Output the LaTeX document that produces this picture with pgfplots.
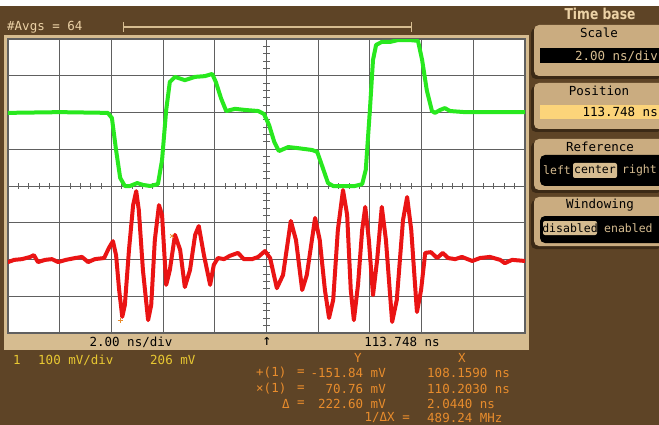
\documentclass[border=0pt]{standalone}
\usepackage{pgfplots}
\pgfplotsset{compat=1.18}
\usepackage{fontspec}
\newfontfamily\mono{DejaVu Sans Mono}
\newfontfamily\titlefont[FakeStretch=0.82]{DejaVu Sans}
\definecolor{bg}{RGB}{94,68,38}
\definecolor{frametan}{RGB}{214,188,144}
\definecolor{paneltan}{RGB}{202,172,128}
\definecolor{shadowc}{RGB}{60,42,22}
\definecolor{lightorange}{RGB}{252,212,122}
\definecolor{titletan}{RGB}{236,210,166}
\definecolor{ytext}{RGB}{232,200,50}
\definecolor{otext}{RGB}{232,140,44}
\definecolor{trgreen}{RGB}{40,232,30}
\definecolor{trred}{RGB}{234,20,20}
\definecolor{gridc}{RGB}{96,96,96}
\newcommand\mf{\mono\fontsize{12.5}{13}\selectfont}
\newcommand\mfs{\mono\fontsize{11.5}{12}\selectfont}
\begin{document}
\begin{tikzpicture}
\useasboundingbox (0pt,-425pt) rectangle (659pt,0pt);
\begin{scope}[x=1pt,y=-1pt]
\fill[bg] (0,0) rectangle (659,425);
\fill[white] (0,0) rectangle (659,6);
% screen frame
\fill[frametan] (4,35) rectangle (529,350);
\fill[white] (8,39) rectangle (525,333);
% top line
\node[anchor=west, text=titletan, font=\mf, inner sep=0pt] at (7,27) {\#Avgs = 64};
\draw[frametan, line width=2.5pt] (123,27) -- (411,27);
\draw[frametan, line width=1pt] (123,22) -- (123,32);
\draw[frametan, line width=1pt] (411,22) -- (411,32);
% right panel
\node[text=titletan, font=\titlefont\bfseries\fontsize{15}{16}\selectfont, inner sep=0pt] at (600,14) {Time base};
% Scale box
\fill[shadowc, rounded corners=5pt] (531,28) rectangle (662,79);
\fill[paneltan, rounded corners=5pt] (534,25) rectangle (664,76);
\node[font=\mf, inner sep=0pt] at (599,33) {Scale};
\fill[black] (540,48) rectangle (662,63);
\node[anchor=east, text=frametan, font=\mf, inner sep=0pt] at (658,56) {2.00 ns/div};
% Position box
\fill[shadowc, rounded corners=5pt] (531,86) rectangle (662,132);
\fill[paneltan, rounded corners=5pt] (534,83) rectangle (664,129);
\node[font=\mf, inner sep=0pt] at (599,91) {Position};
\fill[lightorange] (540,105) rectangle (662,119);
\node[anchor=east, font=\mf, inner sep=0pt] at (658,112) {113.748 ns};
% Reference box
\fill[shadowc, rounded corners=5pt] (531,142) rectangle (662,193);
\fill[paneltan, rounded corners=5pt] (534,139) rectangle (664,190);
\node[font=\mf, inner sep=0pt] at (600,147) {Reference};
\fill[black, rounded corners=5pt] (540,155) rectangle (664,186);
\fill[frametan, rounded corners=2pt] (573,163) rectangle (617,178);
\node[anchor=west, text=frametan, font=\mfs, inner sep=0pt] at (543,170) {left};
\node[font=\mfs, inner sep=0pt] at (595,170) {center};
\node[anchor=west, text=frametan, font=\mfs, inner sep=0pt] at (622,170) {right};
% Windowing box
\fill[shadowc, rounded corners=5pt] (531,200) rectangle (662,249);
\fill[paneltan, rounded corners=5pt] (534,197) rectangle (664,246);
\node[font=\mf, inner sep=0pt] at (600,205) {Windowing};
\fill[black, rounded corners=5pt] (540,216) rectangle (664,243);
\fill[frametan, rounded corners=2pt] (543,221) rectangle (597,235);
\node[font=\mfs, inner sep=0pt] at (570,228) {disabled};
\node[anchor=west, text=frametan, font=\mfs, inner sep=0pt] at (604,228) {enabled};
% bottom strip text
\node[font=\mf, inner sep=0pt] at (131,342) {2.00 ns/div};
\node[font=\mono\fontsize{15}{15}\selectfont, inner sep=0pt] at (267,341) {↑};
\node[font=\mf, inner sep=0pt] at (402,342) {113.748 ns};
% yellow line
\node[anchor=west, text=ytext, font=\mf, inner sep=0pt] at (13,360) {1};
\node[anchor=west, text=ytext, font=\mf, inner sep=0pt] at (38,360) {100 mV/div};
\node[anchor=west, text=ytext, font=\mf, inner sep=0pt] at (150,360) {206 mV};
% cursor readout
\node[text=otext, font=\mf, inner sep=0pt] at (358,358) {Y};
\node[text=otext, font=\mf, inner sep=0pt] at (462,358) {X};
\node[anchor=west, text=otext, font=\mf, inner sep=0pt] at (256,373) {+(1)};
\node[anchor=west, text=otext, font=\mf, inner sep=0pt] at (256,389) {×(1)};
\node[anchor=west, text=otext, font=\mf, inner sep=0pt] at (282,404) {Δ};
\node[text=otext, font=\mf, inner sep=0pt] at (301,373) {=};
\node[text=otext, font=\mf, inner sep=0pt] at (301,389) {=};
\node[text=otext, font=\mf, inner sep=0pt] at (301,404) {=};
\node[anchor=east, text=otext, font=\mf, inner sep=0pt] at (386,373) {-151.84 mV};
\node[anchor=east, text=otext, font=\mf, inner sep=0pt] at (386,389) {70.76 mV};
\node[anchor=east, text=otext, font=\mf, inner sep=0pt] at (386,404) {222.60 mV};
\node[anchor=east, text=otext, font=\mf, inner sep=0pt] at (410,418) {1/ΔX =};
\node[anchor=west, text=otext, font=\mf, inner sep=0pt] at (427,373) {108.1590 ns};
\node[anchor=west, text=otext, font=\mf, inner sep=0pt] at (427,389) {110.2030 ns};
\node[anchor=west, text=otext, font=\mf, inner sep=0pt] at (427,404) {2.0440 ns};
\node[anchor=west, text=otext, font=\mf, inner sep=0pt] at (427,418) {489.24 MHz};
\end{scope}
\begin{axis}[at={(8pt,-333pt)}, anchor=south west, width=517pt, height=294pt, scale only axis,
  xmin=0, xmax=10, ymin=-4, ymax=4,
  xtick={0,1,...,10}, ytick={-4,-3,...,4}, xticklabels={}, yticklabels={},
  major tick length=0pt, grid=major,
  grid style={gridc, line width=1pt}, axis line style={gridc, line width=1.2pt},
  axis background/.style={fill=white}, clip=true]
\pgfplotsinvokeforeach{0.2,0.4,0.6,0.8,1.2,1.4,1.6,1.8,2.2,2.4,2.6,2.8,3.2,3.4,3.6,3.8,4.2,4.4,4.6,4.8,5.2,5.4,5.6,5.8,6.2,6.4,6.6,6.8,7.2,7.4,7.6,7.8,8.2,8.4,8.6,8.8,9.2,9.4,9.6,9.8}{
  \draw[gridc, line width=1pt] (axis cs:#1,-0.08) -- (axis cs:#1,0.08);
}
\pgfplotsinvokeforeach{-3.8,-3.6,-3.4,-3.2,-2.8,-2.6,-2.4,-2.2,-1.8,-1.6,-1.4,-1.2,-0.8,-0.6,-0.4,-0.2,0.2,0.4,0.6,0.8,1.2,1.4,1.6,1.8,2.2,2.4,2.6,2.8,3.2,3.4,3.6,3.8}{
  \draw[gridc, line width=1pt] (axis cs:4.94,#1) -- (axis cs:5.06,#1);
}
\addplot[trgreen, line width=4pt, line join=round, line cap=round] coordinates {
(0,1.99) (1.006,2.01) (1.93,1.99) (2.01,1.85) (2.09,0.98) (2.17,0.22) (2.26,0.0)
(2.36,0.0) (2.50,0.08) (2.61,0.03) (2.75,0.0) (2.90,0.05) (2.98,0.71) (3.06,2.07)
(3.13,2.83) (3.23,2.97) (3.42,2.88) (3.62,2.97) (3.81,2.99) (3.95,3.05) (4.02,2.83)
(4.12,2.39) (4.22,2.04) (4.39,2.10) (4.58,2.07) (4.84,2.04) (4.95,1.96) (5.05,1.66)
(5.15,1.20) (5.24,0.95) (5.42,1.06) (5.61,1.03) (5.88,0.98) (5.98,0.93) (6.07,0.57)
(6.19,0.08) (6.29,0.0) (6.52,0.0) (6.71,0.0) (6.85,0.05) (6.92,0.44) (7.00,2.07)
(7.06,3.43) (7.12,3.84) (7.23,3.92) (7.39,3.92) (7.54,3.97) (7.78,3.97) (7.93,3.95)
(8.01,3.43) (8.10,2.61) (8.20,2.04) (8.26,1.99) (8.36,2.07) (8.45,2.12) (8.55,2.04)
(8.84,2.01) (9.32,2.01) (10.0,2.01)
};
\addplot[trred, line width=4pt, line join=round, line cap=round] coordinates {
(0,-2.07) (0.12,-2.01) (0.27,-1.99) (0.43,-1.93) (0.50,-1.88) (0.58,-2.07) (0.716,-2.01)
(0.85,-1.99) (0.97,-2.07) (1.12,-2.01) (1.30,-1.96) (1.43,-1.93) (1.55,-2.07) (1.68,-1.99)
(1.86,-1.96) (1.95,-1.69) (2.03,-1.50) (2.09,-1.88) (2.15,-2.83) (2.21,-3.56) (2.26,-3.24)
(2.34,-1.74) (2.42,-0.52) (2.48,-0.14) (2.53,-0.65) (2.61,-2.29) (2.71,-3.65) (2.77,-3.24)
(2.84,-1.47) (2.92,-0.52) (2.98,-0.79) (3.06,-2.69) (3.13,-2.29) (3.23,-1.33) (3.33,-1.74)
(3.42,-2.75) (3.52,-2.29) (3.62,-1.33) (3.69,-1.09) (3.79,-1.88) (3.91,-2.69) (3.98,-2.15)
(4.06,-1.96) (4.18,-1.99) (4.29,-1.90) (4.45,-1.82) (4.56,-1.99) (4.72,-1.99) (4.84,-1.93)
(4.97,-1.77) (5.07,-1.96) (5.20,-2.78) (5.32,-2.42) (5.47,-0.95) (5.57,-1.47) (5.69,-2.83)
(5.78,-2.42) (5.94,-0.87) (6.03,-1.47) (6.13,-2.83) (6.21,-3.59) (6.29,-3.10) (6.38,-1.20)
(6.48,-0.11) (6.56,-0.79) (6.63,-2.83) (6.69,-3.65) (6.77,-2.69) (6.85,-1.20) (6.91,-0.57)
(6.98,-1.47) (7.06,-2.97) (7.14,-2.01) (7.23,-0.57) (7.31,-1.47) (7.43,-3.70) (7.52,-3.10)
(7.64,-0.93) (7.72,-0.30) (7.80,-1.20) (7.91,-3.43) (7.99,-2.83) (8.07,-1.82) (8.18,-1.80)
(8.30,-1.96) (8.41,-1.82) (8.51,-1.96) (8.65,-1.99) (8.78,-1.93) (8.98,-2.04) (9.13,-1.96)
(9.32,-1.93) (9.52,-2.01) (9.61,-2.10) (9.75,-2.01) (10.0,-2.04)
};
\addplot[otext, only marks, mark=+, mark size=2.5pt, line width=0.8pt] coordinates {(2.17,-3.65)};
\addplot[otext, only marks, mark=x, mark size=2.5pt, line width=0.8pt] coordinates {(3.17,-1.36)};
\end{axis}
\end{tikzpicture}
\end{document}
